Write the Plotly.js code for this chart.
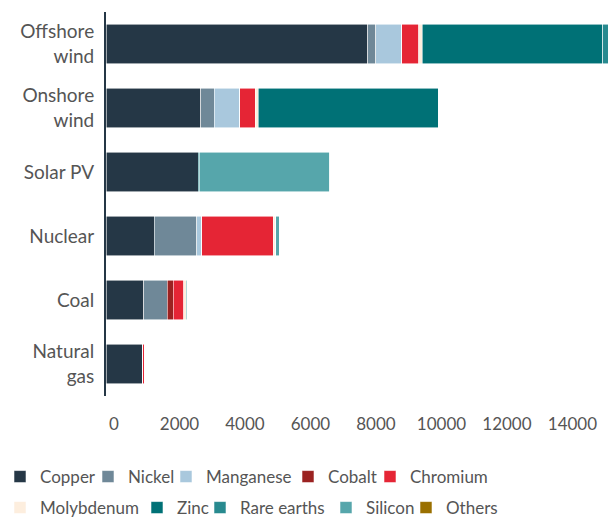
<!DOCTYPE html>
<html>
<head>
<meta charset="utf-8">
<script src="https://cdn.plot.ly/plotly-3.0.1.min.js"></script>
<style>html,body{margin:0;padding:0;background:#fff;}#chart{width:608px;height:518px;}</style>
</head>
<body>
<div id="chart"></div>
<script>
const categories = ["Offshore<br>wind", "Onshore<br>wind", "Solar PV", "Nuclear", "Coal", "Natural<br>gas"];
const copper     = [8000, 2900, 2822, 1473, 1150, 1100];
const nickel     = [240, 404, 0, 1297, 721, 16];
const manganese  = [790, 780, 0, 148, 0, 0];
const cobalt     = [0, 0, 0, 0, 175, 0];
const chromium   = [525, 470, 0, 2190, 335, 48];
const molybdenum = [109, 99, 0, 70, 66, 0];
const zinc       = [5500, 5500, 30, 0, 0, 0];
const rareEarths = [239, 14, 0, 0, 0, 0];
const silicon    = [0, 0, 3978, 115, 30, 0];
const others     = [0, 0, 0, 0, 0, 0];
const xTicks = [0, 2000, 4000, 6000, 8000, 10000, 12000, 14000];

const series = [
  {name: "Copper", v: copper, c: "#253746"},
  {name: "Nickel", v: nickel, c: "#6f8898"},
  {name: "Manganese", v: manganese, c: "#a9c8dd"},
  {name: "Cobalt", v: cobalt, c: "#9b2221"},
  {name: "Chromium", v: chromium, c: "#e52535"},
  {name: "Molybdenum", v: molybdenum, c: "#fdeede"},
  {name: "Zinc", v: zinc, c: "#007176"},
  {name: "Rare earths", v: rareEarths, c: "#288a8f"},
  {name: "Silicon", v: silicon, c: "#56a6ab"},
  {name: "Others", v: others, c: "#9a7000"}
];

// legend placement (pixels from left, row centre from top)
const legendX = [0, 88, 166, 288, 370, 0, 137, 200, 326, 406];
const legendRowY = [477, 477, 477, 477, 477, 508, 508, 508, 508, 508];

const FONT = "Lato, 'Open Sans', sans-serif";
const W = 608, H = 518;

const traces = series.map((s, i) => ({
  type: "bar",
  orientation: "h",
  name: s.name,
  y: categories,
  x: s.v,
  legend: i === 0 ? "legend" : "legend" + (i + 1),
  marker: {color: s.c, line: {color: "rgba(255,255,255,0.7)", width: 0.8}},
  hoverinfo: "name+x"
}));

const layout = {
  width: W, height: H,
  margin: {l: 106, r: 0, t: 12, b: 122},
  barmode: "stack",
  bargap: 0.39,
  paper_bgcolor: "#fff",
  plot_bgcolor: "#fff",
  font: {family: FONT, size: 17, color: "#555"},
  showlegend: true,
  xaxis: {
    range: [0, 15330],
    tickvals: xTicks,
    ticktext: xTicks.map(String),
    showgrid: false, zeroline: false, showline: false,
    ticks: "",
    ticklabelstandoff: 16,
    ticklabelshift: 8,
    tickfont: {family: FONT, size: 17, color: "#555"},
    fixedrange: true
  },
  yaxis: {
    type: "category",
    autorange: "reversed",
    showline: true, linecolor: "#253746", linewidth: 2,
    showgrid: false, zeroline: false,
    ticks: "",
    ticklabelstandoff: 6,
    tickfont: {family: FONT, size: 19, color: "#555"},
    fixedrange: true
  }
};

series.forEach((s, i) => {
  const key = i === 0 ? "legend" : "legend" + (i + 1);
  layout[key] = {
    orientation: "h",
    xref: "container", yref: "container",
    x: legendX[i] / W, xanchor: "left",
    y: (H - legendRowY[i]) / H, yanchor: "middle",
    font: {family: FONT, size: 17, color: "#555"},
    bgcolor: "rgba(0,0,0,0)",
    traceorder: "normal"
  };
});

Plotly.newPlot("chart", traces, layout, {displayModeBar: false, staticPlot: true});
</script>
</body>
</html>
